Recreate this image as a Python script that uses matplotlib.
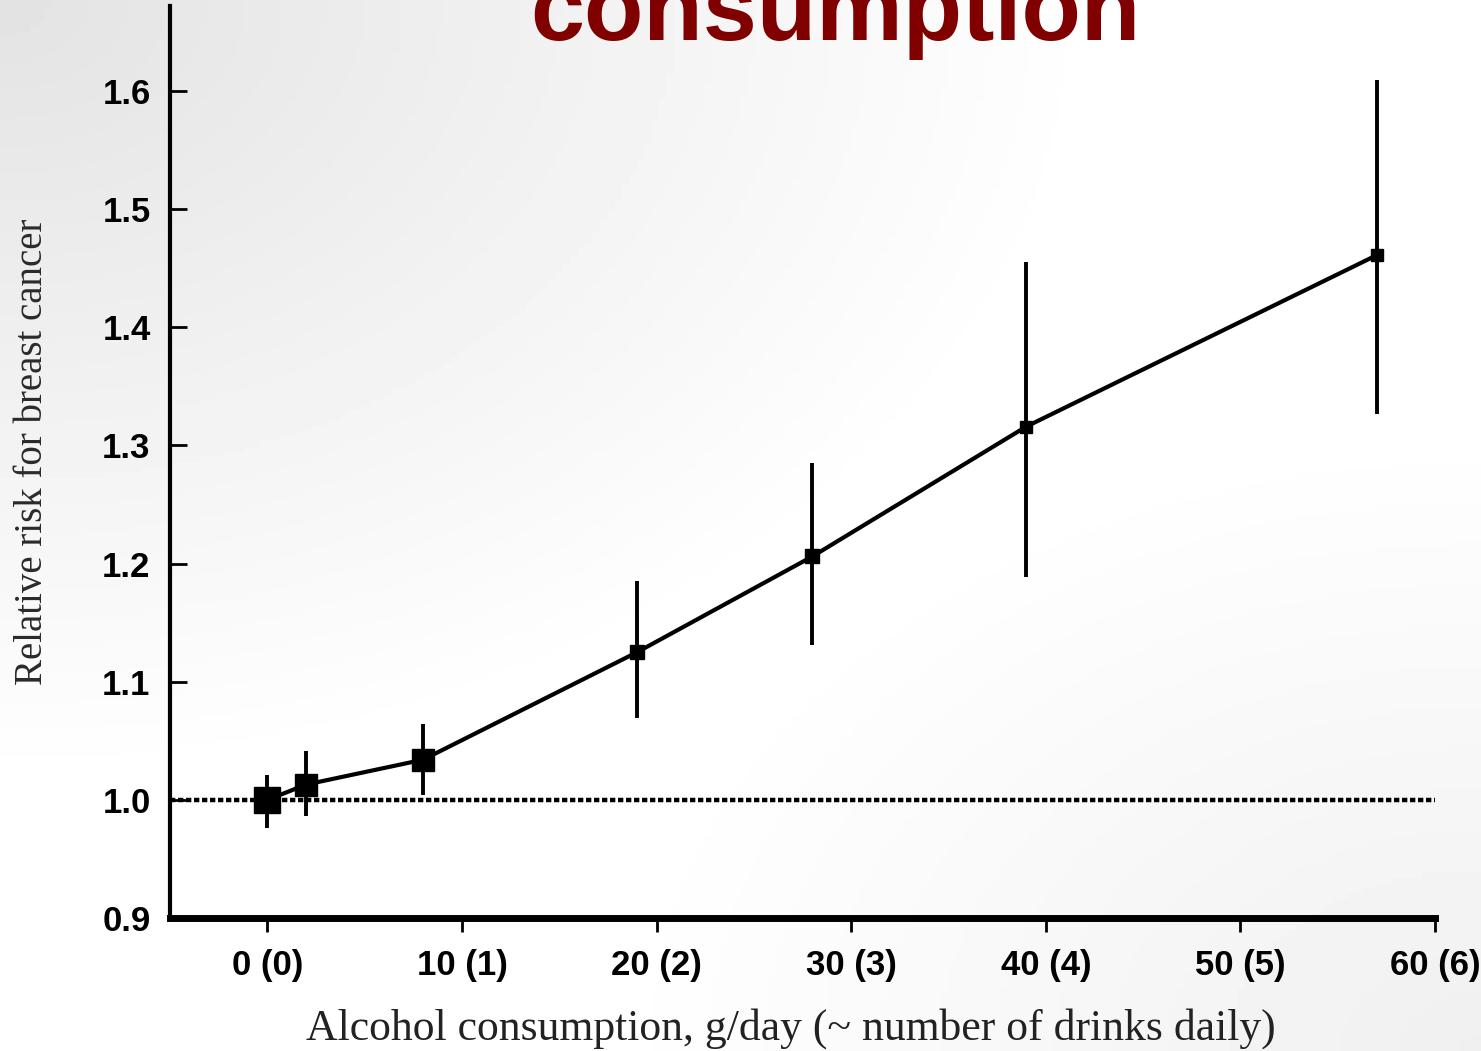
import numpy as np
import matplotlib
matplotlib.use("Agg")
import matplotlib.pyplot as plt

# alcohol intake (g/day) and relative risk with 95% CI
grams = [0, 2, 8, 19, 28, 39, 57]
rel_risk = [1.000, 1.013, 1.034, 1.125, 1.206, 1.316, 1.461]
ci_low = [0.976, 0.986, 1.004, 1.069, 1.131, 1.189, 1.327]
ci_high = [1.021, 1.041, 1.064, 1.185, 1.285, 1.455, 1.609]

x_ticks = [0, 10, 20, 30, 40, 50, 60]
x_tick_labels = ["0 (0)", "10 (1)", "20 (2)", "30 (3)", "40 (4)", "50 (5)", "60 (6)"]
y_ticks = [0.9, 1.0, 1.1, 1.2, 1.3, 1.4, 1.5, 1.6]

marker_px = [19, 16, 16.5, 10, 10, 9, 9]

SANS = ["Liberation Sans", "DejaVu Sans"]
SERIF = ["Liberation Serif", "DejaVu Serif"]


def main():
    fig = plt.figure(figsize=(14.81, 10.51), dpi=100)

    # soft grey slide background
    bg = fig.add_axes([0, 0, 1, 1], zorder=-10)
    yy, xx = np.mgrid[0:1:200j, 0:1:200j]
    d1 = np.clip(1 - np.hypot(xx, yy) / 0.75, 0, 1)
    d2 = np.clip(1 - np.hypot(1 - xx, 1 - yy) / 0.6, 0, 1)
    shade = 1 - 0.11 * d1 - 0.06 * d2
    bg.imshow(shade, cmap="gray", vmin=0, vmax=1, extent=[0, 1, 0, 1],
              origin="upper", aspect="auto")
    bg.axis("off")

    ax = fig.add_axes([0.1148, 0.1265, 0.969 - 0.1148, 0.9944 - 0.1265])
    ax.patch.set_alpha(0)

    ax.axhline(1.0, color="black", lw=3.2, linestyle=(0, (1.2, 0.6)), zorder=1)

    low_err = np.array(rel_risk) - np.array(ci_low)
    high_err = np.array(ci_high) - np.array(rel_risk)
    ax.errorbar(grams, rel_risk, yerr=[low_err, high_err], fmt="none",
                ecolor="black", elinewidth=2.8, capsize=0, zorder=2)
    ax.plot(grams, rel_risk, color="black", lw=3, zorder=3)
    for g, r, ms in zip(grams, rel_risk, marker_px):
        ax.plot(g, r, marker="s", ms=ms, color="black", zorder=4)

    ax.set_xlim(-5, 60)
    ax.set_ylim(0.9, 1.672)
    ax.set_xticks(x_ticks)
    ax.set_xticklabels(x_tick_labels, family=SANS, fontweight="bold", fontsize=25)
    ax.set_yticks(y_ticks)
    ax.set_yticklabels([f"{v:.1f}" for v in y_ticks], family=SANS,
                       fontweight="bold", fontsize=25)
    ax.tick_params(axis="x", direction="out", length=10, width=2, pad=12)
    ax.tick_params(axis="y", direction="in", length=12, width=2, pad=14)

    ax.spines["top"].set_visible(False)
    ax.spines["right"].set_visible(False)
    ax.spines["left"].set_linewidth(3)
    ax.spines["bottom"].set_linewidth(5)

    ax.set_xlabel("Alcohol consumption, g/day (~ number of drinks daily)",
                  family=SERIF, fontsize=31.5, color="#222222")
    ax.xaxis.set_label_coords(0.491, -0.099)
    ax.set_ylabel("Relative risk for breast cancer", family=SERIF,
                  fontsize=28, color="#2a2a2a")
    ax.yaxis.set_label_coords(-0.094, 0.511)

    fig.text(0.564, 1 - 40 / 1051, "consumption", family=SANS,
             fontweight="bold", fontsize=70, color="#800000",
             ha="center", va="baseline")

    fig.savefig("out.png", dpi=100)
    plt.close(fig)


if __name__ == "__main__":
    main()
